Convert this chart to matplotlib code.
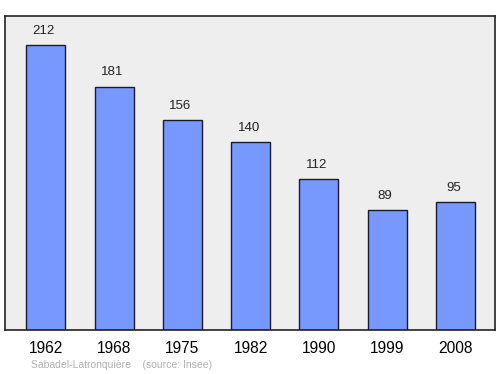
import matplotlib
matplotlib.use("Agg")
import matplotlib.pyplot as plt

plt.rcParams["font.family"] = ["Liberation Sans", "DejaVu Sans"]

years = ["1962", "1968", "1975", "1982", "1990", "1999", "2008"]
population = [212, 181, 156, 140, 112, 89, 95]

fig = plt.figure(figsize=(5.0, 3.74), dpi=100)
ax = fig.add_axes([5/500, 1 - 330/374, 490/500, 314/374])
ax.set_facecolor("#eeeeee")
x = list(range(len(years)))
ax.bar(x, population, width=0.57, color="#7799ff", edgecolor="#1a1a2a", linewidth=1.0)
for xi, v in zip(x, population):
    ax.text(xi - 0.03, v + 10.5, str(v), ha="center", va="center", fontsize=9.5, color="#222222")
ax.set_xlim(-0.6, 6.58)
ax.set_ylim(0, 233.5)
ax.set_yticks([])
ax.set_xticks(x)
ax.set_xticklabels(years, fontsize=11.2)
ax.tick_params(axis="x", length=0, pad=8)
for s in ax.spines.values():
    s.set_color("#222222")
    s.set_linewidth(1.2)
fig.text(31/500, 1 - 365/374, "Sabadel-Latronquière    (source: Insee)", fontsize=7.5, color="#b0b0b0", va="center", ha="left")
fig.savefig("out.png", dpi=100)
